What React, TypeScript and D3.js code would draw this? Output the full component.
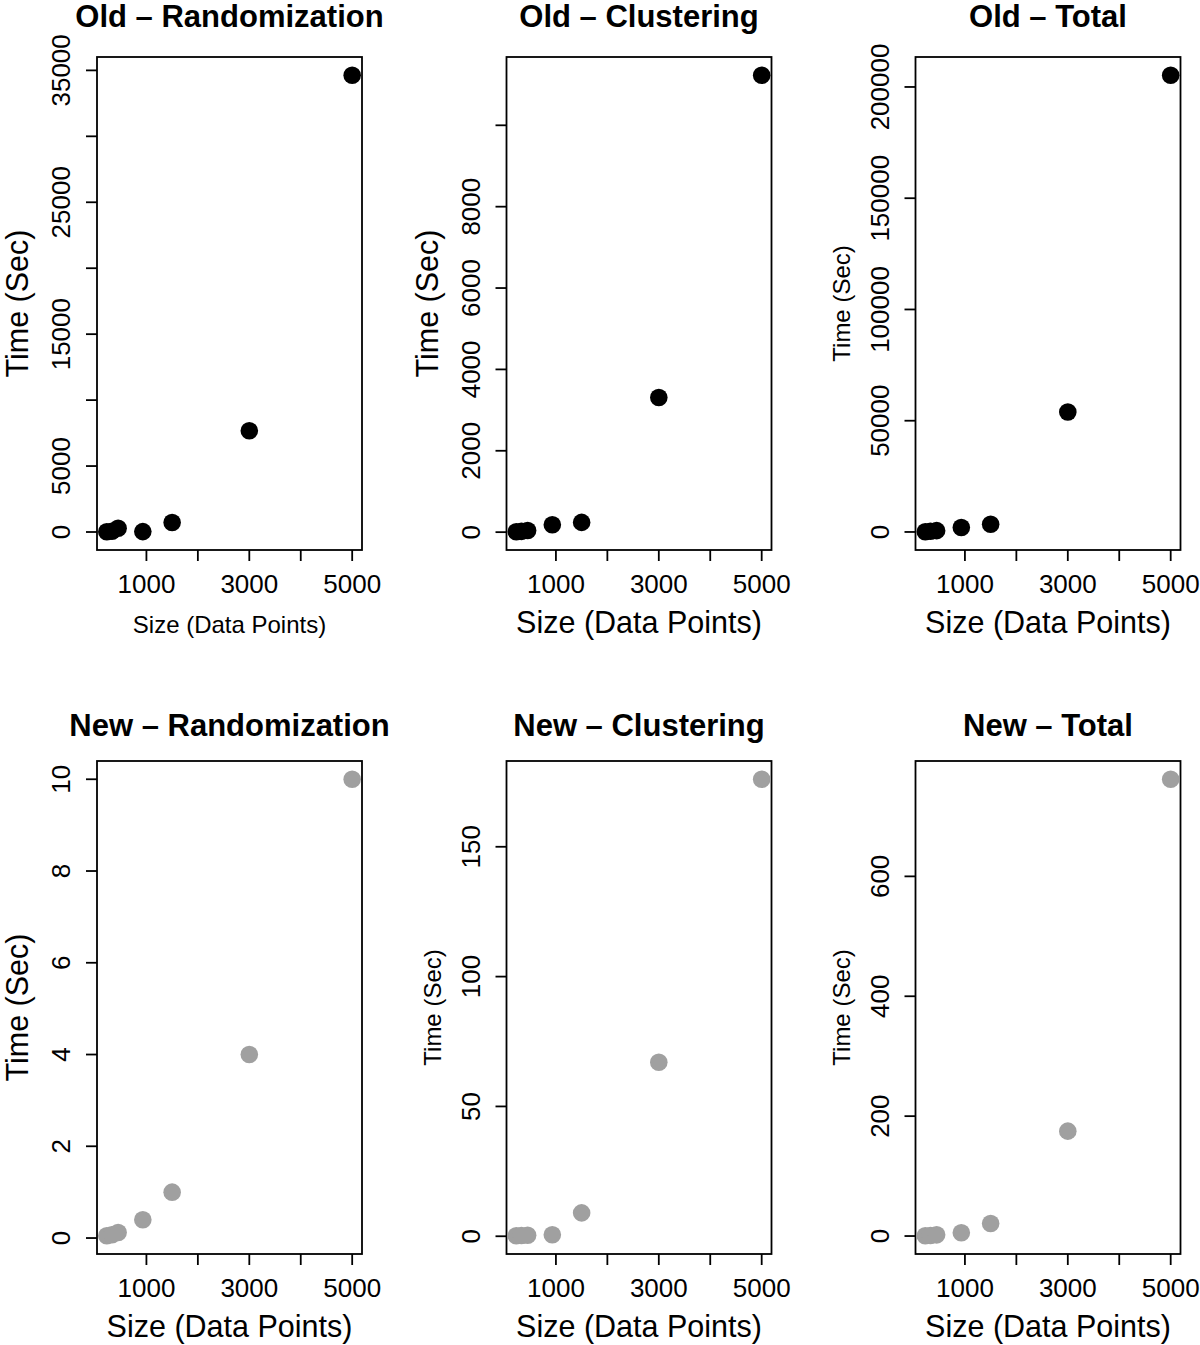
import React from "react";
import * as d3 from "d3";

// ---- data ----
const sizes = [230, 330, 450, 930, 1500, 3000, 5000];
const oldRandomization = [20, 60, 280, 30, 720, 7680, 34630];
const oldClustering = [10, 20, 40, 180, 240, 3310, 11230];
const oldTotal = [100, 300, 600, 1980, 3460, 53930, 205260];
const newRandomization = [0.05, 0.07, 0.12, 0.4, 1.0, 4.0, 10.0];
const newClustering = [0.2, 0.3, 0.4, 0.6, 9.0, 67, 176];
const newTotal = [0.5, 1, 2, 5.5, 21, 175, 762];

const titles = [
  "Old \u2013 Randomization",
  "Old \u2013 Clustering",
  "Old \u2013 Total",
  "New \u2013 Randomization",
  "New \u2013 Clustering",
  "New \u2013 Total",
];
const xTicks = [1000, 2000, 3000, 4000, 5000];
const xTickLabels = ["1000", "", "3000", "", "5000"];
const yTicksOldRand = [0, 5000, 10000, 15000, 20000, 25000, 30000, 35000];
const yLabelsOldRand = ["0", "5000", "", "15000", "", "25000", "", "35000"];
const yTicksOldClust = [0, 2000, 4000, 6000, 8000, 10000];
const yLabelsOldClust = ["0", "2000", "4000", "6000", "8000", ""];
const yTicksOldTotal = [0, 50000, 100000, 150000, 200000];
const yLabelsOldTotal = ["0", "50000", "100000", "150000", "200000"];
const yTicksNewRand = [0, 2, 4, 6, 8, 10];
const yLabelsNewRand = ["0", "2", "4", "6", "8", "10"];
const yTicksNewClust = [0, 50, 100, 150];
const yLabelsNewClust = ["0", "50", "100", "150"];
const yTicksNewTotal = [0, 200, 400, 600];
const yLabelsNewTotal = ["0", "200", "400", "600"];
const xTitle = "Size (Data Points)";
const yTitle = "Time (Sec)";

const FONT = "'Liberation Sans', Arial, Helvetica, sans-serif";
const BLACK = "#000000";
const GRAY = "#a0a0a0";

const colLeft = [97, 506.5, 915.5];
const rowTop = [57, 761];
const titleGap = [30, 25.5];
const PW = 265;
const PH = 493;

type Panel = {
  title: string;
  ys: number[];
  yTicks: number[];
  yLabels: string[];
  color: string;
  yTitleBig: boolean;
  xTitleBig: boolean;
};

const panels: Panel[] = [
  { title: titles[0], ys: oldRandomization, yTicks: yTicksOldRand, yLabels: yLabelsOldRand, color: BLACK, yTitleBig: true, xTitleBig: false },
  { title: titles[1], ys: oldClustering, yTicks: yTicksOldClust, yLabels: yLabelsOldClust, color: BLACK, yTitleBig: true, xTitleBig: true },
  { title: titles[2], ys: oldTotal, yTicks: yTicksOldTotal, yLabels: yLabelsOldTotal, color: BLACK, yTitleBig: false, xTitleBig: true },
  { title: titles[3], ys: newRandomization, yTicks: yTicksNewRand, yLabels: yLabelsNewRand, color: GRAY, yTitleBig: true, xTitleBig: true },
  { title: titles[4], ys: newClustering, yTicks: yTicksNewClust, yLabels: yLabelsNewClust, color: GRAY, yTitleBig: false, xTitleBig: true },
  { title: titles[5], ys: newTotal, yTicks: yTicksNewTotal, yLabels: yLabelsNewTotal, color: GRAY, yTitleBig: false, xTitleBig: true },
];

function ext(vals: number[]): [number, number] {
  const [mn, mx] = d3.extent(vals) as [number, number];
  const d = (mx - mn) * 0.04;
  return [mn - d, mx + d];
}

function PanelView({ p, left, top, gap }: { p: Panel; left: number; top: number; gap: number }) {
  const x = d3.scaleLinear().domain(ext(sizes)).range([left, left + PW]);
  const y = d3.scaleLinear().domain(ext(p.ys)).range([top + PH, top]);
  const bottom = top + PH;
  const cx = left + PW / 2;
  const cy = top + PH / 2;
  const tickLen = 11;
  return (
    <g>
      <text x={cx} y={top - gap} textAnchor="middle" fontFamily={FONT} fontWeight="bold" fontSize={31} fill="#000">
        {p.title}
      </text>
      <rect x={left} y={top} width={PW} height={PH} fill="none" stroke="#000" strokeWidth={1.8} />
      {xTicks.map((t, i) => (
        <g key={"xt" + i}>
          <line x1={x(t)} x2={x(t)} y1={bottom} y2={bottom + tickLen} stroke="#000" strokeWidth={1.8} />
          {xTickLabels[i] && (
            <text x={x(t)} y={bottom + 43} textAnchor="middle" fontFamily={FONT} fontSize={26} fill="#000">
              {xTickLabels[i]}
            </text>
          )}
        </g>
      ))}
      {p.yTicks.map((t, i) => (
        <g key={"yt" + i}>
          <line x1={left - tickLen} x2={left} y1={y(t)} y2={y(t)} stroke="#000" strokeWidth={1.8} />
          {p.yLabels[i] && (
            <text
              transform={`translate(${left - 27},${y(t)}) rotate(-90)`}
              textAnchor="middle"
              fontFamily={FONT}
              fontSize={26}
              fill="#000"
            >
              {p.yLabels[i]}
            </text>
          )}
        </g>
      ))}
      <text
        x={cx}
        y={bottom + 83}
        textAnchor="middle"
        fontFamily={FONT}
        fontSize={p.xTitleBig ? 30.5 : 24}
        fill="#000"
      >
        {xTitle}
      </text>
      <text
        transform={`translate(${left - (p.yTitleBig ? 69 : 66)},${cy}) rotate(-90)`}
        textAnchor="middle"
        fontFamily={FONT}
        fontSize={p.yTitleBig ? 30.5 : 24}
        fill="#000"
      >
        {yTitle}
      </text>
      {sizes.map((s, i) => (
        <circle key={"pt" + i} cx={x(s)} cy={y(p.ys[i])} r={8.8} fill={p.color} />
      ))}
    </g>
  );
}

export default function App() {
  return (
    <svg
      width={1200}
      height={1345}
      viewBox="0 0 1200 1345"
      style={{ position: "absolute", left: 0, top: 0, background: "#fff" }}
    >
      <rect x={0} y={0} width={1200} height={1345} fill="#fff" />
      {panels.map((p, i) => (
        <PanelView
          key={i}
          p={p}
          left={colLeft[i % 3]}
          top={rowTop[Math.floor(i / 3)]}
          gap={titleGap[Math.floor(i / 3)]}
        />
      ))}
    </svg>
  );
}
